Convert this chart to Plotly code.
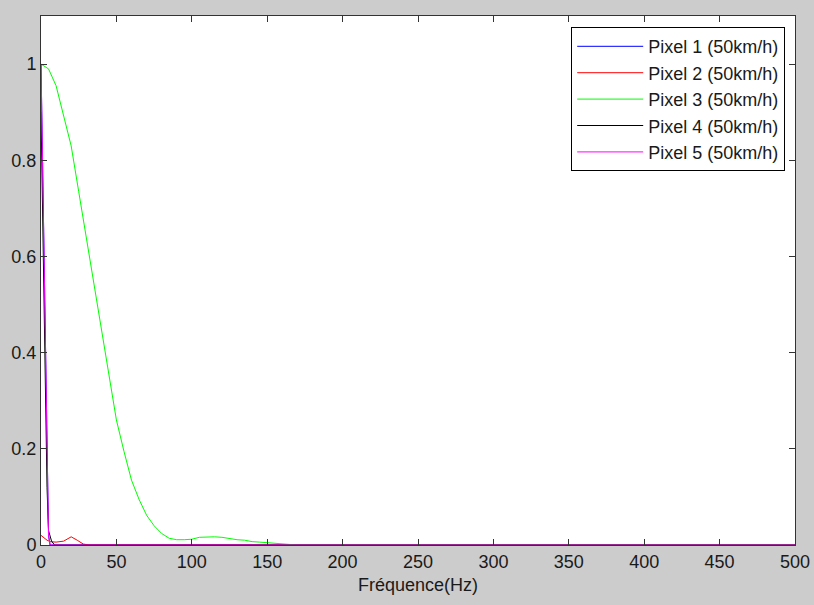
import plotly.graph_objects as go

# Pixel 1 (blue)
f1 = [0, 1, 2, 3, 4, 5, 6, 500]
v1 = [1.0, 0.8, 0.6, 0.42, 0.25, 0.02, 0.0, 0.0]
# Pixel 2 (red)
f2 = [0, 4, 6, 10, 15, 20, 24, 28, 32, 500]
v2 = [0.02, 0.01, 0.007, 0.006, 0.008, 0.017, 0.01, 0.002, 0.0, 0.0]
# Pixel 3 (green)
f3 = [0, 5, 10, 15, 20, 25, 30, 35, 40, 45, 50, 55, 60, 65, 70, 75, 80, 85,
      90, 95, 100, 105, 110, 115, 120, 125, 130, 135, 140, 145, 150, 155, 160,
      165, 170, 500]
v3 = [1.0, 0.99, 0.955, 0.89, 0.83, 0.735, 0.64, 0.54, 0.45, 0.355, 0.26,
      0.195, 0.135, 0.095, 0.062, 0.04, 0.024, 0.014, 0.011, 0.011, 0.012,
      0.016, 0.017, 0.017, 0.016, 0.013, 0.011, 0.01, 0.007, 0.006, 0.005,
      0.004, 0.003, 0.001, 0.0, 0.0]
# Pixel 4 (black)
f4 = [0, 1, 2, 3, 4, 5, 7, 9, 500]
v4 = [0.9, 0.72, 0.52, 0.32, 0.12, 0.03, 0.008, 0.0, 0.0]
# Pixel 5 (magenta)
f5 = [0, 1, 2, 3, 4, 5, 6, 500]
v5 = [1.0, 0.8, 0.62, 0.45, 0.28, 0.02, 0.0, 0.0]

names = ["Pixel 1 (50km/h)", "Pixel 2 (50km/h)", "Pixel 3 (50km/h)",
         "Pixel 4 (50km/h)", "Pixel 5 (50km/h)"]
colors = ["#0000ff", "#ff0000", "#00ff00", "#000000", "#ff00ff"]

xticks = [0, 50, 100, 150, 200, 250, 300, 350, 400, 450, 500]
yticks = [0, 0.2, 0.4, 0.6, 0.8, 1.0]
ytick_labels = ["0", "0.2", "0.4", "0.6", "0.8", "1"]

fig = go.Figure()
for i, (f, v) in enumerate([(f1, v1), (f2, v2), (f3, v3), (f4, v4), (f5, v5)]):
    fig.add_trace(go.Scatter(x=f, y=v, mode="lines", name=names[i],
                             line=dict(color=colors[i], width=1),
                             legendgroup="g%d" % i))

font = dict(family="Liberation Sans, Arial, sans-serif", size=18, color="#1a1a1a")
axis_common = dict(showgrid=False, zeroline=False, showline=True, linecolor="#333333",
                   linewidth=1, mirror="ticks", ticks="inside", ticklen=6,
                   tickcolor="#333333", tickfont=font, automargin=False,
                   ticklabeloverflow="allow")

fig.update_layout(
    width=814, height=605,
    margin=dict(l=41, r=19, t=16, b=60),
    paper_bgcolor="#cccccc", plot_bgcolor="#ffffff",
    font=font,
    showlegend=True,
    legend=dict(x=0.987, y=0.979, xanchor="right", yanchor="top",
                bgcolor="#ffffff", bordercolor="#000000", borderwidth=1,
                font=font, tracegroupgap=0, itemwidth=66),
    xaxis=dict(range=[0, 500], tickvals=xticks,
               title=dict(text="Fréquence(Hz)", font=font, standoff=7), **axis_common),
    yaxis=dict(range=[0, 1.1], tickvals=yticks, ticktext=ytick_labels, **axis_common),
)

fig.write_html("out.html", config={"displayModeBar": False},
               post_script="document.body.style.margin='0';document.body.style.background='#cccccc';")
